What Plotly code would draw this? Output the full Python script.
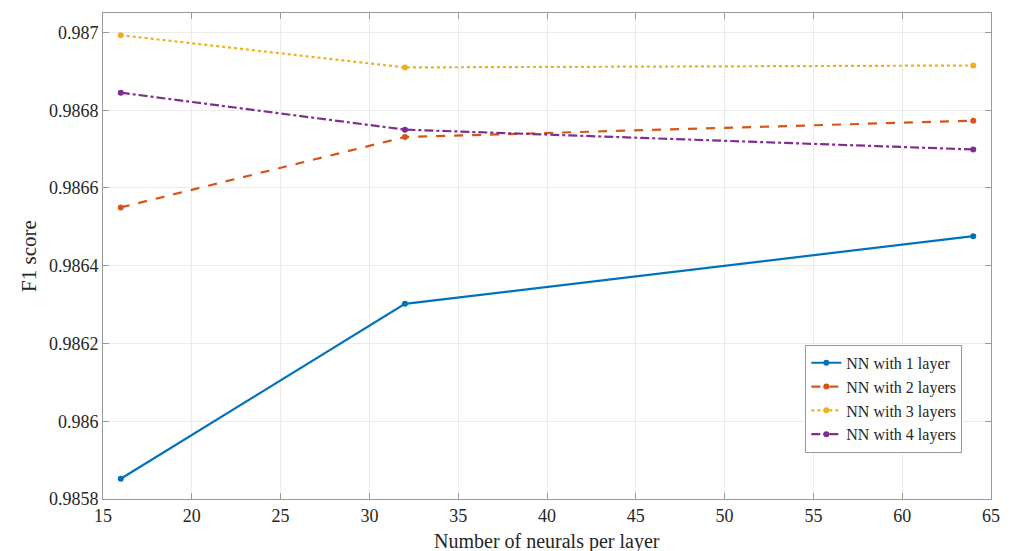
import plotly.graph_objects as go

# Neurons per hidden layer and the F1 score reached by each network depth
neurons = [16, 32, 64]
f1_1_layer = [0.985852, 0.986302, 0.986476]
f1_2_layers = [0.986550, 0.986731, 0.986773]
f1_3_layers = [0.986993, 0.986910, 0.986915]
f1_4_layers = [0.986845, 0.986750, 0.986699]

series_names = ["NN with 1 layer", "NN with 2 layers", "NN with 3 layers", "NN with 4 layers"]
series_values = [f1_1_layer, f1_2_layers, f1_3_layers, f1_4_layers]

x_ticks = [15, 20, 25, 30, 35, 40, 45, 50, 55, 60, 65]
y_ticks = [0.9858, 0.986, 0.9862, 0.9864, 0.9866, 0.9868, 0.987]
y_tick_text = ["0.9858", "0.986", "0.9862", "0.9864", "0.9866", "0.9868", "0.987"]

colors = ["#0072BD", "#D95319", "#EDB120", "#7E2F8E"]
dashes = ["solid", "dash", "dot", "dashdot"]

FONT = "Palatino Linotype, Book Antiqua, Palatino, Liberation Serif, serif"
TEXT_COLOR = "#262626"

fig = go.Figure()
for name, vals, col, dash in zip(series_names, series_values, colors, dashes):
    fig.add_trace(go.Scatter(
        x=neurons, y=vals, name=name, mode="lines+markers",
        line=dict(color=col, width=2.2, dash=dash),
        marker=dict(color=col, size=6, symbol="circle"),
    ))

axis_common = dict(
    showline=True, linecolor="#9a9a9a", linewidth=1, mirror="ticks",
    ticks="inside", ticklen=6, tickcolor="#9a9a9a",
    showgrid=True, gridcolor="#ebebeb", gridwidth=1,
    zeroline=False, automargin=False,
    tickfont=dict(family=FONT, size=18, color=TEXT_COLOR),
)

fig.update_xaxes(range=[15, 65], tickvals=x_ticks, **axis_common)
fig.update_yaxes(
    range=[0.9858, 0.98705], tickvals=y_ticks, ticktext=y_tick_text,
    title=dict(text="F1 score", font=dict(family=FONT, size=21, color=TEXT_COLOR), standoff=6),
    **axis_common,
)

# x-axis title placed below the tick labels
fig.add_annotation(
    text="Number of neurals per layer", xref="paper", yref="paper",
    x=0.5, y=-0.0875, xanchor="center", yanchor="middle", showarrow=False,
    font=dict(family=FONT, size=20, color=TEXT_COLOR),
)

fig.update_layout(
    width=1014, height=551,
    margin=dict(l=103, r=23, t=13, b=52),
    paper_bgcolor="white", plot_bgcolor="white",
    font=dict(family=FONT, color=TEXT_COLOR),
    legend=dict(
        x=0.9677, y=0.095, xanchor="right", yanchor="bottom",
        bgcolor="white", bordercolor="#9a9a9a", borderwidth=1,
        font=dict(family=FONT, size=16, color=TEXT_COLOR),
        tracegroupgap=0, itemwidth=30,
    ),
    showlegend=True,
)

fig.write_html("out.html")
